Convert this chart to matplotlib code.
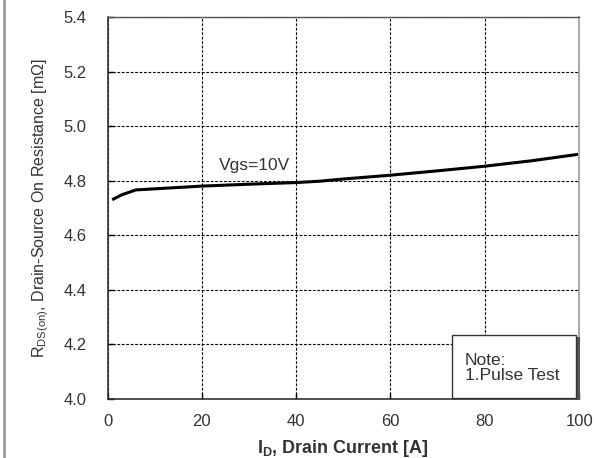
import matplotlib
matplotlib.use("Agg")
import matplotlib.pyplot as plt
from matplotlib.lines import Line2D
from matplotlib.patches import Rectangle

plt.rcParams['font.family'] = ['Liberation Sans', 'DejaVu Sans']

# Drain current [A] and on-resistance [mOhm] at Vgs = 10 V
drain_current = [1, 3, 6, 10, 20, 30, 40, 45, 50, 60, 70, 80, 90, 100]
rds_on = [4.730, 4.748, 4.766, 4.770, 4.780, 4.787, 4.793, 4.798, 4.806, 4.820, 4.836, 4.853, 4.873, 4.897]

x_ticks = [0, 20, 40, 60, 80, 100]
y_ticks = [4.0, 4.2, 4.4, 4.6, 4.8, 5.0, 5.2, 5.4]

fig = plt.figure(figsize=(5.94, 4.58), dpi=100)
ax = fig.add_axes([0.181, 0.129, 0.794, 0.834])

ax.plot(drain_current, rds_on, color='black', lw=2.2, solid_capstyle='butt')

ax.set_xlim(0, 100)
ax.set_ylim(4.0, 5.4)
ax.set_xticks(x_ticks)
ax.set_yticks(y_ticks)
ax.set_xticklabels([str(t) for t in x_ticks])
ax.set_yticklabels([f"{t:.1f}" for t in y_ticks])
ax.grid(True, color='black', ls=(0, (2.5, 1.5)), lw=0.8)
ax.tick_params(direction='in', length=4, width=1, labelsize=12, colors='#333333')
ax.tick_params(axis='x', pad=11)
ax.tick_params(axis='y', pad=15)
ax.tick_params(axis='both', color='black')

for side in ['left', 'bottom']:
    ax.spines[side].set_color('#333333')
    ax.spines[side].set_linewidth(1.2)
ax.spines['top'].set_color('#555555')
ax.spines['top'].set_linewidth(1.0)
ax.spines['right'].set_color('#aaaaaa')
ax.spines['right'].set_linewidth(1.5)

ax.set_xlabel(r'I$_{\mathregular{D}}$, Drain Current [A]', fontsize=13,
              fontweight='bold', color='#333333', labelpad=6)
ax.set_ylabel(r'R$_{\mathregular{DS(on)}}$, Drain-Source On Resistance [mΩ]',
              fontsize=11.5, color='#333333', labelpad=9)

ax.text(23.7, 4.828, 'Vgs=10V', fontsize=12.5, color='#333333', ha='left', va='bottom')

# Note box with a drop shadow
shadow = Rectangle((73.6, 3.996), 26.6, 0.232, transform=ax.transData,
                   facecolor='#555555', edgecolor='none', zorder=4, clip_on=False)
ax.add_patch(shadow)
box = Rectangle((73.1, 4.003), 26.3, 0.232, transform=ax.transData,
                facecolor='white', edgecolor='#333333', lw=1.0, zorder=5, clip_on=False)
ax.add_patch(box)
ax.text(75.8, 4.17, 'Note:\n1.Pulse Test', fontsize=12.5, color='#333333',
        va='top', ha='left', linespacing=1.0, zorder=6)

# Left page border
fig.add_artist(Line2D([0.007, 0.007], [0.0, 1.0], color='#999999', lw=2.0,
                      transform=fig.transFigure))

fig.savefig('out.png', dpi=100)
